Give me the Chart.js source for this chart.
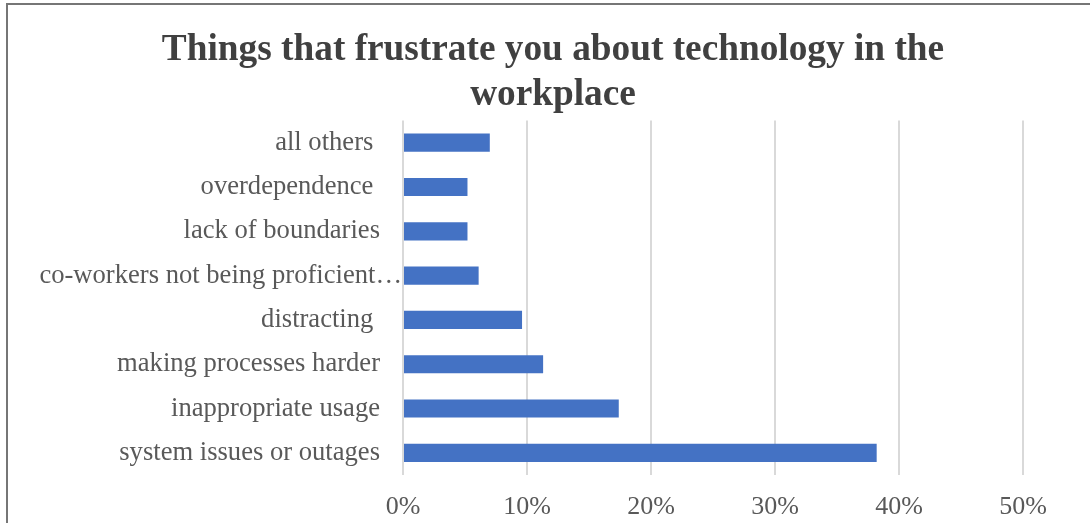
<!DOCTYPE html>
<html>
<head>
<meta charset="utf-8">
<script src="https://cdn.jsdelivr.net/npm/chart.js@4/dist/chart.umd.min.js"></script>
<style>
  html, body { margin: 0; padding: 0; background: #fff; overflow: hidden; }
  #marco {
    position: absolute; left: 6px; top: 3px;
    width: 1094px; height: 540px;
    border: 2px solid #767676; box-sizing: border-box;
  }
  #grafica { display: block; }
</style>
</head>
<body>
<div id="marco"><canvas id="grafica" width="1090" height="536"></canvas></div>
<script>
// categorías (de arriba hacia abajo) y porcentajes
const categorias = [
  'all others ',
  'overdependence ',
  'lack of boundaries',
  'co-workers not being proficient\u2026',
  'distracting ',
  'making processes harder',
  'inappropriate usage',
  'system issues or outages'
];
const porcentajes = [7.0, 5.2, 5.2, 6.1, 9.6, 11.3, 17.4, 38.2];
const ticksX = [0, 10, 20, 30, 40, 50];

const titulo = ['Things that frustrate you about technology in the', 'workplace'];

const ctx = document.getElementById('grafica').getContext('2d');

// mismo padding a ambos lados para que el título quede centrado en el lienzo
const margenLateral = 75;

// las etiquetas del eje Y se recortan al ancho del eje; se extiende hasta el borde.
// La etiqueta truncada (con "…") llega hasta el eje, sin el padding de las demás.
const ajusteEtiquetas = {
  id: 'ajusteEtiquetas',
  afterLayout: (chart) => { chart.scales.y.left = 0; },
  beforeDraw: (chart) => {
    const items = chart.scales.y.getLabelItems();
    items.forEach(it => {
      if (!it._ajustado && String(it.label).endsWith('\u2026')) {
        it.options.translation[0] += 22;
        it._ajustado = true;
      }
    });
  }
};

const grafica = new Chart(ctx, {
  type: 'bar',
  data: {
    labels: categorias,
    datasets: [{
      label: 'Frustraciones',
      data: porcentajes,
      backgroundColor: '#4472C4',
      borderWidth: 0,
      barPercentage: 0.41,
      categoryPercentage: 1
    }]
  },
  plugins: [ajusteEtiquetas],
  options: {
    indexAxis: 'y',
    responsive: false,
    animation: false,
    layout: { padding: { left: margenLateral, right: margenLateral, top: 0, bottom: 0 } },
    plugins: {
      legend: { display: false },
      tooltip: { enabled: false },
      title: {
        display: true,
        text: titulo,
        color: '#404040',
        font: { family: 'Liberation Serif', size: 37.3, weight: 'bold', lineHeight: 1.2 },
        padding: { top: 23, bottom: 3 }
      }
    },
    scales: {
      x: {
        min: ticksX[0],
        max: ticksX[ticksX.length - 1],
        afterBuildTicks: (escala) => { escala.ticks = ticksX.map(v => ({ value: v })); },
        afterFit: (escala) => { escala.height = 66; },
        grid: { color: '#d9d9d9', lineWidth: 2, drawTicks: false },
        border: { display: false },
        ticks: {
          color: '#595959',
          padding: 17,
          font: { family: 'Liberation Serif', size: 26 },
          callback: (v) => v + '%'
        }
      },
      y: {
        afterFit: (escala) => { escala.width = 395 - margenLateral; },
        grid: { display: false, drawTicks: false },
        border: { display: false },
        ticks: {
          color: '#595959',
          padding: 23,
          autoSkip: false,
          font: { family: 'Liberation Serif', size: 26.6 }
        }
      }
    }
  }
});
</script>
</body>
</html>
